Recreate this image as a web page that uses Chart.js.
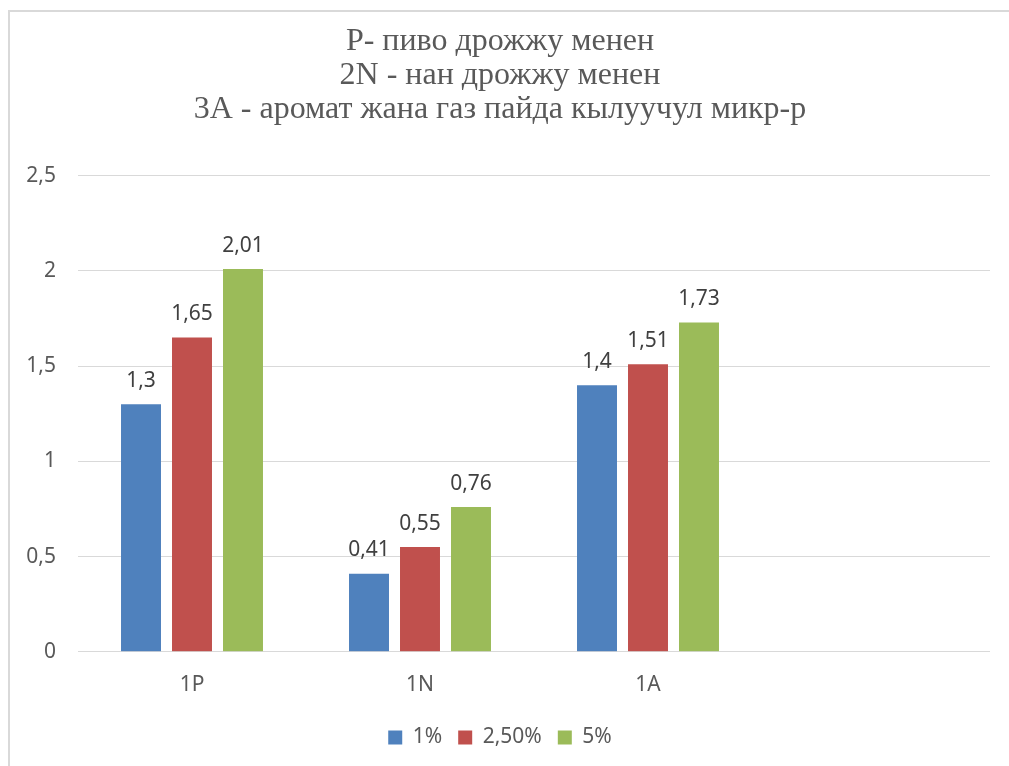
<!DOCTYPE html>
<html lang="ky">
<head>
  <meta charset="UTF-8">
  <title>Дрожжу менен</title>
  <script src="https://cdn.jsdelivr.net/npm/chart.js"></script>
  <style>
    html, body {
      margin: 0;
      padding: 0;
      background: #ffffff;
      overflow: hidden;
    }
    .frame {
      position: absolute;
      left: 8px;
      top: 10px;
      width: 1001px;
      height: 756px;
      border-top: 2px solid #d9d9d9;
      border-left: 2px solid #d9d9d9;
    }
    .frame canvas {
      display: block;
    }
  </style>
</head>
<body>
  <div class="frame">
    <canvas id="yeastChart" width="999" height="754"></canvas>
  </div>

  <script>
    // Категориялар (төртүнчүсү бош)
    const categories = ['1P', '1N', '1A', ''];
    const seriesNames = ['1%', '2,50%', '5%'];
    const values1 = [1.3, 0.41, 1.4, null];
    const values25 = [1.65, 0.55, 1.51, null];
    const values5 = [2.01, 0.76, 1.73, null];
    const yTicks = [0, 0.5, 1, 1.5, 2, 2.5];
    const titleLines = [
      'P- пиво дрожжу менен',
      '2N - нан дрожжу менен',
      '3A - аромат жана газ пайда кылуучул микр-р'
    ];

    const colors = ['#4f81bd', '#c0504d', '#9bbb59'];
    const fmt = v => String(v).replace('.', ',');
    const sans = '"Noto Sans", sans-serif';

    // Мамычалардын үстүнө маанилерди жазуу
    const valueLabels = {
      id: 'valueLabels',
      afterDatasetsDraw(chart) {
        const ctx = chart.ctx;
        ctx.save();
        ctx.font = '21px ' + sans;
        ctx.fillStyle = '#404040';
        ctx.textAlign = 'center';
        ctx.textBaseline = 'bottom';
        chart.data.datasets.forEach((ds, i) => {
          chart.getDatasetMeta(i).data.forEach((bar, j) => {
            if (ds.data[j] == null) return;
            ctx.fillText(fmt(ds.data[j]), bar.x, bar.y - 13);
          });
        });
        ctx.restore();
      }
    };

    const ctx = document.getElementById('yeastChart').getContext('2d');
    new Chart(ctx, {
      type: 'bar',
      data: {
        labels: categories,
        datasets: [
          { label: seriesNames[0], data: values1, backgroundColor: colors[0] },
          { label: seriesNames[1], data: values25, backgroundColor: colors[1] },
          { label: seriesNames[2], data: values5, backgroundColor: colors[2] }
        ]
      },
      options: {
        responsive: false,
        animation: false,
        categoryPercentage: 0.671,
        barPercentage: 0.784,
        layout: { padding: { left: 0, right: 19, top: 0, bottom: 8 } },
        plugins: {
          title: {
            display: true,
            text: titleLines,
            color: '#595959',
            font: { family: '"Liberation Serif", serif', size: 32, weight: 'normal', lineHeight: 1.06 },
            padding: { top: 13, bottom: 49 }
          },
          legend: {
            position: 'bottom',
            labels: {
              boxWidth: 14,
              boxHeight: 14,
              color: '#595959',
              font: { family: sans, size: 21 },
              padding: 16
            }
          },
          tooltip: { enabled: false }
        },
        scales: {
          x: {
            grid: { display: false },
            border: { display: false },
            ticks: {
              color: '#595959',
              font: { family: sans, size: 21 },
              padding: 13
            }
          },
          y: {
            min: 0,
            max: 2.5,
            afterFit: s => { s.width = 68; },
            afterBuildTicks: s => { s.ticks = yTicks.map(v => ({ value: v })); },
            grid: { color: '#d9d9d9', lineWidth: 1, drawTicks: false },
            border: { display: false },
            ticks: {
              color: '#595959',
              font: { family: sans, size: 21 },
              padding: 22,
              callback: v => fmt(v)
            }
          }
        }
      },
      plugins: [valueLabels]
    });
  </script>
</body>
</html>
